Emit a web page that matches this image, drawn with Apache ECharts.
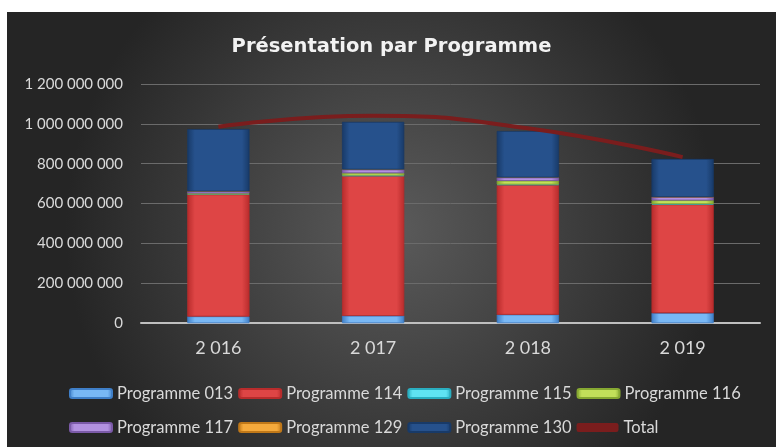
<!DOCTYPE html>
<html>
<head>
<meta charset="utf-8">
<script src="https://cdn.jsdelivr.net/npm/echarts@6/dist/echarts.min.js"></script>
<style>
html,body{margin:0;padding:0;background:#fff;width:776px;height:447px;overflow:hidden;}
#chart{position:absolute;left:7px;top:12px;width:769px;height:435px;}
</style>
</head>
<body>
<div id="chart"></div>
<script>
const categories = ['2 016', '2 017', '2 018', '2 019'];
const p013 = [33e6, 36e6, 42e6, 50e6];
const p114 = [612e6, 702e6, 651e6, 545e6];
const p115 = [1e6, 3e6, 3e6, 3e6];
const p116 = [5e6, 12e6, 18e6, 18e6];
const p117 = [9e6, 17e6, 16e6, 16e6];
const p129 = [1e6, 1e6, 1e6, 1e6];
const p130 = [312e6, 238e6, 232e6, 190e6];
const total = [985e6, 1040e6, 978e6, 833e6];

const names = ['Programme 013','Programme 114','Programme 115','Programme 116','Programme 117','Programme 129','Programme 130','Total'];
const values = [p013, p114, p115, p116, p117, p129, p130];
const colors = [
  ['#3f7fc8','#78b8f5'],
  ['#b82c2c','#de4545'],
  ['#2aaec0','#5fe3f2'],
  ['#86a832','#c2e05a'],
  ['#7b5aa8','#b392e0'],
  ['#c07818','#f5aa3c'],
  ['#183a68','#26518c']
];
function grad(c){
  return {type:'linear',x:0,y:0,x2:1,y2:0,colorStops:[
    {offset:0,color:c[0]},{offset:0.12,color:c[1]},{offset:0.88,color:c[1]},{offset:1,color:c[0]}]};
}
function fmt(v){
  return String(Math.round(v)).replace(/\B(?=(\d{3})+(?!\d))/g,' ');
}
const series = values.map((d,i)=>({
  name:names[i], type:'bar', stack:'s', data:d, barWidth:'40%',
  itemStyle:{color:grad(colors[i]), borderColor:colors[i][0], borderWidth:0.5}
}));
series.push({
  name:'Total', type:'line', data:total, smooth:true, symbol:'none', z:5,
  lineStyle:{color:'#7a1d1d', width:4}, itemStyle:{color:'#7a1d1d'}
});
const chart = echarts.init(document.getElementById('chart'));
const legendText = {color:'#d9d9d9', fontSize:16.5, fontFamily:'Lato'};
chart.setOption({
  backgroundColor:{type:'radial',x:0.5,y:0.5,r:0.75,colorStops:[
    {offset:0,color:'#5b5b5b'},{offset:1,color:'#252525'}]},
  color:colors.map(c=>c[1]).concat(['#7a1d1d']),
  title:{text:'Présentation par Programme', left:'center', top:20,
    textStyle:{color:'#f2f2f2', fontSize:19.5, fontWeight:'bold', fontFamily:'DejaVu Sans'}},
  grid:{left:134, right:16, top:72, bottom:124},
  legend:[
    {data:names.slice(0,4), left:57, top:368, itemWidth:42, itemHeight:9, itemGap:5, textStyle:legendText,
     icon:'roundRect'},
    {data:names.slice(4), left:57, top:402, itemWidth:42, itemHeight:9, itemGap:5, textStyle:legendText,
     icon:'roundRect'}
  ],
  xAxis:{type:'category', data:categories,
    axisLine:{lineStyle:{color:'#bfbfbf', width:2}}, axisTick:{show:false},
    axisLabel:{color:'#d9d9d9', fontSize:18, fontFamily:'Lato', margin:16}},
  yAxis:{type:'value', min:0, max:1.2e9, interval:2e8,
    axisLine:{show:false}, axisTick:{show:false},
    splitLine:{lineStyle:{color:'#6b6b6b', width:1}},
    axisLabel:{color:'#d9d9d9', fontSize:15, fontFamily:'Lato', margin:18, formatter:fmt}},
  series:series
});
</script>
</body>
</html>
